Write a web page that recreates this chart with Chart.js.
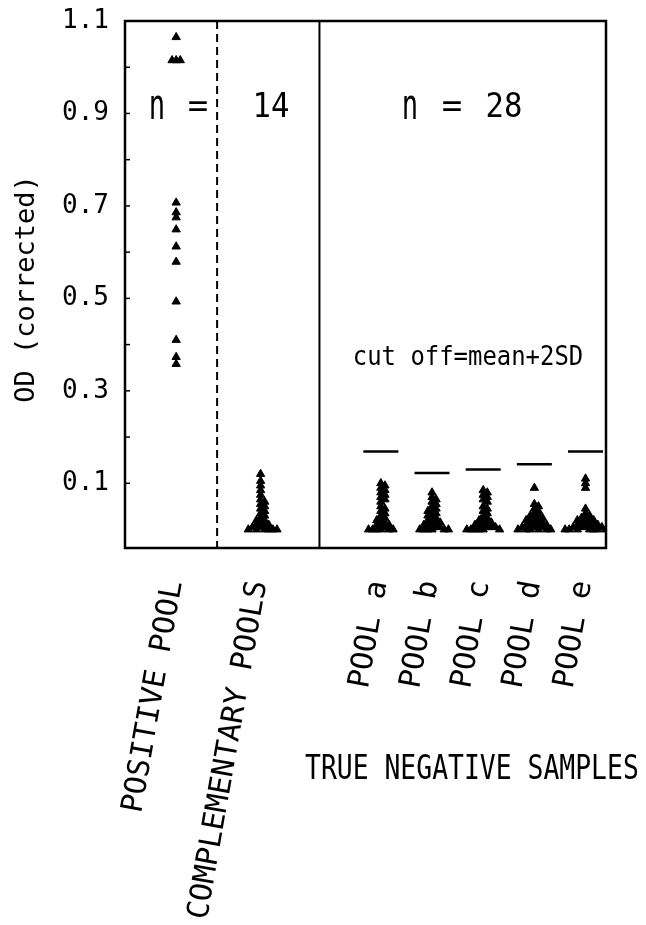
<!DOCTYPE html>
<html><head><meta charset="utf-8">
<script src="https://cdn.jsdelivr.net/npm/chart.js@4/dist/chart.umd.min.js"></script>
<style>html,body{margin:0;padding:0;background:#fff;}</style>
</head><body>
<canvas id="c" width="646" height="925" style="width:646px;height:925px;display:block"></canvas>
<script>
// ---- data ----
const groupNames = ['POSITIVE POOL', 'COMPLEMENTARY POOLS', 'POOL a', 'POOL b', 'POOL c', 'POOL d', 'POOL e'];
const positivePool = [1.065, 1.015, 1.015, 1.015, 0.707, 0.686, 0.675, 0.649, 0.612, 0.579, 0.493, 0.41, 0.373, 0.358];
const complementaryPools = [0.12, 0.105, 0.095, 0.085, 0.075, 0.065, 0.06, 0.055, 0.05, 0.045, 0.04, 0.035, 0.03, 0.025, 0.02, 0.02, 0.015, 0.01, 0.01, 0.01, 0.005, 0.005, 0, 0, 0, 0, 0, 0];
const poolA = [0.10, 0.095, 0.09, 0.085, 0.08, 0.075, 0.07, 0.065, 0.06, 0.05, 0.045, 0.04, 0.035, 0.03, 0.025, 0.02, 0.02, 0.015, 0.01, 0.01, 0.01, 0.005, 0, 0, 0, 0, 0, 0];
const poolB = [0.08, 0.07, 0.065, 0.06, 0.055, 0.05, 0.045, 0.04, 0.04, 0.035, 0.03, 0.03, 0.025, 0.02, 0.02, 0.015, 0.015, 0.01, 0.01, 0.01, 0.005, 0.005, 0, 0, 0, 0, 0, 0];
const poolC = [0.085, 0.08, 0.075, 0.07, 0.065, 0.06, 0.05, 0.045, 0.04, 0.035, 0.03, 0.025, 0.02, 0.02, 0.015, 0.015, 0.01, 0.01, 0.01, 0.005, 0.005, 0.005, 0, 0, 0, 0, 0, 0];
const poolD = [0.09, 0.055, 0.05, 0.045, 0.04, 0.035, 0.03, 0.03, 0.025, 0.025, 0.02, 0.02, 0.02, 0.015, 0.015, 0.01, 0.01, 0.01, 0.01, 0.005, 0.005, 0.005, 0, 0, 0, 0, 0, 0];
const poolE = [0.11, 0.1, 0.09, 0.045, 0.035, 0.03, 0.025, 0.025, 0.02, 0.02, 0.02, 0.015, 0.015, 0.01, 0.01, 0.01, 0.01, 0.005, 0.005, 0.005, 0.005, 0, 0, 0, 0, 0, 0, 0];
const cutOffs = [0.169, 0.122, 0.130, 0.141, 0.169];   // pools a..e, mean+2SD
const yTickLabels = [0.1, 0.3, 0.5, 0.7, 0.9, 1.1];
const nPositive = 14;
const nNegative = 28;

// ---- layout (x positions on a linear scale) ----
const groupX = [1, 2.65, 5, 6, 7, 8, 9];
const dashedX = 1.8, solidX = 3.8;
const MONO = "'DejaVu Sans Mono', monospace";

function swarm(values, center, d, tol) {
  const placed = [];
  return values.map(v => {
    let k = 0, off = 0;
    for (;;) {
      off = k === 0 ? 0 : (k % 2 ? Math.ceil(k / 2) : -Math.ceil(k / 2)) * d;
      const cx = center + off;
      if (!placed.some(p => Math.abs(p.y - v) < tol && Math.abs(p.x - cx) < d * 0.9)) break;
      k++;
    }
    const pt = { x: center + off, y: v };
    placed.push(pt);
    return pt;
  });
}
const groups = [positivePool, complementaryPools, poolA, poolB, poolC, poolD, poolE];
const pts = [];
groups.forEach((g, i) => pts.push(...swarm(g, groupX[i], 0.08, 0.008)));
const cutPts = cutOffs.map((v, i) => ({ x: groupX[i + 2], y: v }));

function drawText(ctx, txt, x, y, size, opts = {}) {
  ctx.save();
  ctx.translate(x, y);
  if (opts.rot) ctx.rotate(opts.rot);
  ctx.scale(opts.sx || 1, opts.sy || 1);
  ctx.font = size + 'px ' + MONO;
  ctx.fillStyle = '#000';
  ctx.textAlign = opts.align || 'center';
  ctx.textBaseline = 'middle';
  ctx.fillText(txt, 0, 0);
  ctx.restore();
}

const decor = {
  id: 'decor',
  afterDatasetsDraw(chart) {
    const { ctx, chartArea: a, scales: { x, y } } = chart;
    ctx.save();
    ctx.strokeStyle = '#000';
    ctx.lineWidth = 2.5;
    ctx.strokeRect(a.left, a.top, a.right - a.left, a.bottom - a.top);
    const xd = x.getPixelForValue(dashedX);
    ctx.lineWidth = 2;
    ctx.setLineDash([8, 5]);
    ctx.beginPath(); ctx.moveTo(xd, a.top); ctx.lineTo(xd, a.bottom); ctx.stroke();
    ctx.setLineDash([]);
    const xs = x.getPixelForValue(solidX);
    ctx.beginPath(); ctx.moveTo(xs, a.top); ctx.lineTo(xs, a.bottom); ctx.stroke();
    // inward ticks on the y axis
    ctx.lineWidth = 1.5;
    for (let k = 1; k <= 10; k++) {
      const py = y.getPixelForValue(k / 10);
      ctx.beginPath(); ctx.moveTo(a.left, py); ctx.lineTo(a.left + 5, py); ctx.stroke();
    }
    ctx.restore();

    // texts
    drawText(ctx, 'n', 157, 108, 32, { sy: 1.35, sx: 0.85 });
    drawText(ctx, '=', 198, 108, 34);
    drawText(ctx, String(nPositive), 271, 108, 34, { sx: 0.9 });
    drawText(ctx, 'n', 410, 108, 32, { sy: 1.35, sx: 0.85 });
    drawText(ctx, '=', 452, 108, 34);
    drawText(ctx, String(nNegative), 504, 108, 34, { sx: 0.9 });
    drawText(ctx, 'cut off=mean+2SD', 468, 358, 26, { sx: 0.92 });
    drawText(ctx, 'TRUE NEGATIVE SAMPLES', 305, 770, 33, { sx: 0.8, align: 'left' });
    drawText(ctx, 'OD (corrected)', 27, 289, 27, { rot: -Math.PI / 2 });
  }
};

new Chart(document.getElementById('c'), {
  type: 'scatter',
  data: {
    datasets: [
      { data: pts, pointStyle: 'triangle', radius: 4.8, backgroundColor: '#000', borderColor: '#000', borderWidth: 1 },
      { data: cutPts, pointStyle: 'line', radius: 17.5, borderColor: '#000', borderWidth: 2.5, backgroundColor: '#000' }
    ]
  },
  options: {
    responsive: false,
    animation: false,
    devicePixelRatio: 1,
    layout: { padding: { top: 21, right: 40, left: 0, bottom: 0 } },
    plugins: { legend: { display: false }, tooltip: { enabled: false } },
    scales: {
      x: {
        type: 'linear', min: 0, max: 9.4,
        grid: { display: false, drawTicks: false },
        border: { display: false },
        afterBuildTicks: s => { s.ticks = groupX.map(v => ({ value: v })); },
        ticks: {
          autoSkip: false, minRotation: 80, maxRotation: 80, padding: 30, labelOffset: -2,
          font: { family: MONO, size: 30 }, color: '#000',
          callback: (v, i) => groupNames[i]
        },
        afterFit: s => { s.height = 377; s.paddingLeft = 0; s.paddingRight = 0; }
      },
      y: {
        min: -0.04, max: 1.1,
        grid: { display: false, drawTicks: false },
        border: { display: false },
        afterBuildTicks: s => { s.ticks = yTickLabels.map(v => ({ value: v })); },
        ticks: {
          padding: 16, font: { family: MONO, size: 26 }, color: '#000',
          callback: v => Number(v).toFixed(1)
        },
        afterFit: s => { s.width = 125; s.paddingTop = 0; s.paddingBottom = 0; }
      }
    }
  },
  plugins: [decor]
});
</script>
</body></html>
